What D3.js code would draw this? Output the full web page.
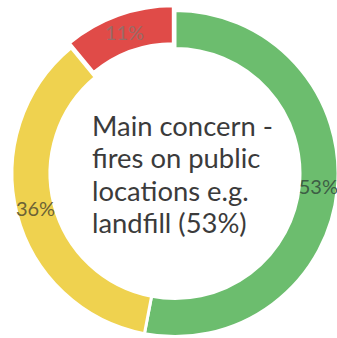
<!DOCTYPE html>
<html>
<head>
<meta charset="utf-8">
<script src="https://cdn.jsdelivr.net/npm/d3@7"></script>
<style>
  html, body { margin: 0; padding: 0; background: #fff; }
  svg { display: block; }
</style>
</head>
<body>
<svg id="chart" width="337" height="338"></svg>
<script>
// Share of respondents by concern, clockwise from 12 o'clock
const categories = ["Fires on public locations", "Other concern", "Minor concern"];
const values = [53, 36, 11];
const sliceLabels = ["53%", "36%", "11%"];
const sliceColors = ["#6cbd6e", "#efd24f", "#e04b48"];
const labelColors = ["#3d5e45", "#6b6236", "#9a6a66"];
const centerLines = ["Main concern -", "fires on public", "locations e.g.", "landfill (53%)"];

const width = 337, height = 338;
const cx = 175, cy = 173.5;
const outerR = 163, innerR = 125;

const svg = d3.select("#chart");
const g = svg.append("g").attr("transform", `translate(${cx},${cy})`);

const pie = d3.pie().sort(null).value(d => d.value);
const arc = d3.arc().innerRadius(innerR).outerRadius(outerR);
const labelArc = d3.arc().innerRadius((innerR + outerR) / 2).outerRadius((innerR + outerR) / 2);

const data = categories.map((c, i) => ({ name: c, value: values[i], label: sliceLabels[i], color: sliceColors[i], labelColor: labelColors[i] }));
const arcs = pie(data);

// the smallest slice is pulled slightly out of the ring
function offset(d, i) {
  if (i !== 2) return "translate(0,0)";
  const a = (d.startAngle + d.endAngle) / 2;
  const k = 5;
  return `translate(${Math.sin(a) * k},${-Math.cos(a) * k})`;
}

const slices = g.selectAll("g.slice").data(arcs).join("g")
  .attr("class", "slice")
  .attr("transform", offset);

slices.append("path")
  .attr("d", arc)
  .attr("fill", d => d.data.color)
  .attr("stroke", "#fff")
  .attr("stroke-width", 3);

slices.append("text")
  .attr("transform", d => `translate(${labelArc.centroid(d)})`)
  .attr("text-anchor", "middle")
  .attr("dy", "0.35em")
  .attr("font-family", "Lato, 'Open Sans', sans-serif")
  .attr("font-size", 20)
  .attr("fill", d => d.data.labelColor)
  .text(d => d.data.label);

// centre caption, left aligned block
const caption = svg.append("text")
  .attr("font-family", "Lato, 'Open Sans', sans-serif")
  .attr("fill", "#3b3b3b")
  .attr("font-size", 30);

const lineTops = [136, 168, 201, 233];
centerLines.forEach((t, i) => {
  caption.append("tspan").attr("x", 92).attr("y", lineTops[i]).text(t);
});

// fit the first line to its width
const first = caption.select("tspan").node();
const w = first.getComputedTextLength();
const fs = 30 * 181 / w;
caption.attr("font-size", fs);
</script>
</body>
</html>
